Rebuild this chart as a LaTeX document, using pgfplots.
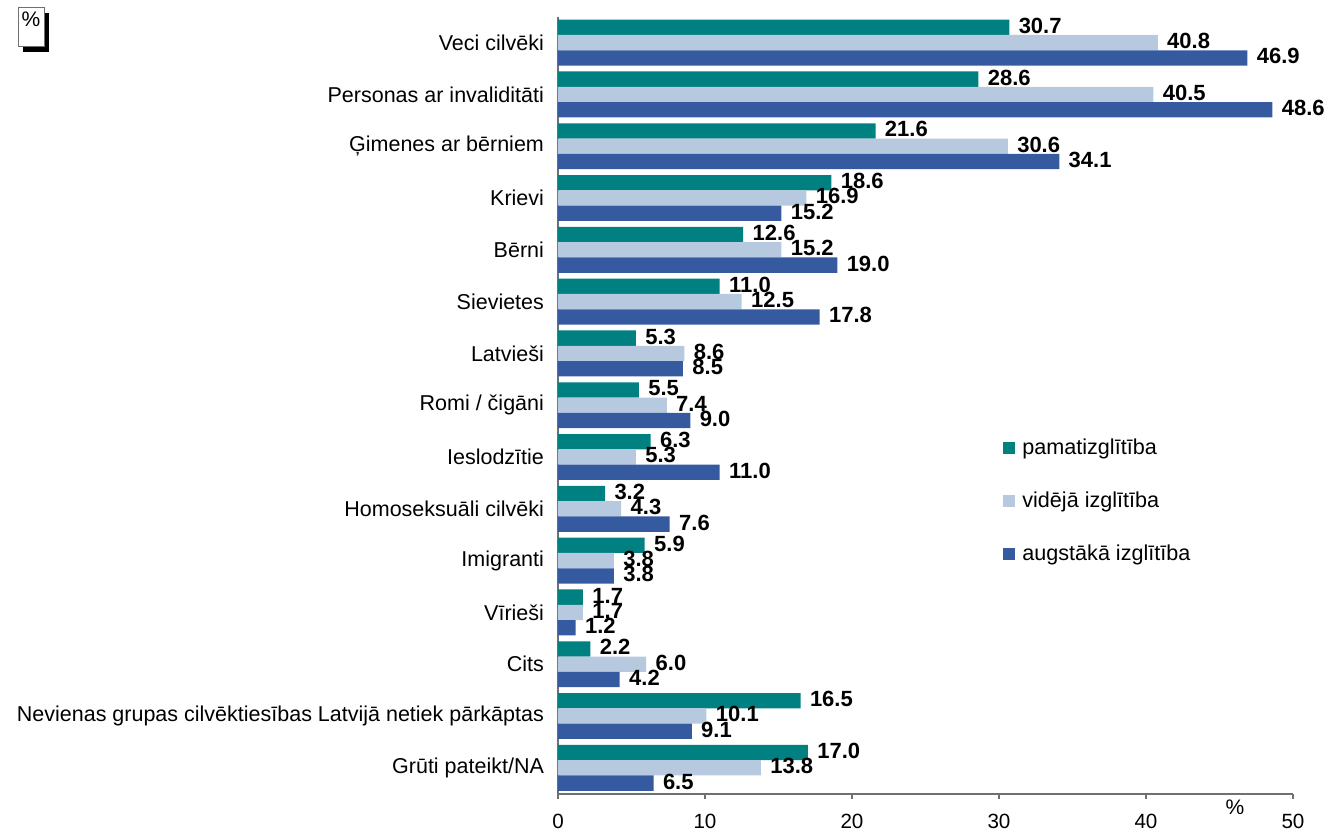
\documentclass[border=0pt]{standalone}
\usepackage{pgfplots}
\pgfplotsset{compat=1.18}
\usepackage{pgfplotstable}
\usepackage{fontspec}
\setmainfont{Liberation Sans}
\definecolor{cA}{HTML}{008080}
\definecolor{cB}{HTML}{B7C9DF}
\definecolor{cC}{HTML}{355A9F}
\definecolor{axc}{HTML}{707070}
\pgfplotstableread{
idx a b c
0 30.7 40.8 46.9
1 28.6 40.5 48.6
2 21.6 30.6 34.1
3 18.6 16.9 15.2
4 12.6 15.2 19.0
5 11.0 12.5 17.8
6 5.3 8.6 8.5
7 5.5 7.4 9.0
8 6.3 5.3 11.0
9 3.2 4.3 7.6
10 5.9 3.8 3.8
11 1.7 1.7 1.2
12 2.2 6.0 4.2
13 16.5 10.1 9.1
14 17.0 13.8 6.5
}\datatable
\begin{document}
\begin{tikzpicture}
\useasboundingbox (0,0) rectangle (663.5pt,415.5pt);
\begin{axis}[
  at={(279pt,18.65pt)}, anchor=south west,
  scale only axis, width=367.5pt, height=388.5pt,
  xbar=0pt, bar width=7.65pt,
  xmin=0, xmax=50, ymin=-0.5, ymax=14.5, y dir=reverse,
  axis x line=bottom, axis y line=left,
  axis line style={-, axc, line width=0.8pt},
  tick style={axc, line width=0.8pt},
  tick align=outside,
  xtick={0,10,20,30,40,50},
  major tick length=2.5pt,
  ytick={0,...,14},
  y tick style={draw=none},
  minor ytick={-0.5,0.5,...,14.5},
  minor y tick style={axc, line width=0.8pt},
  minor tick length=2.5pt,
  yticklabels={Veci cilvēki,Personas ar invaliditāti,Ģimenes ar bērniem,Krievi,Bērni,Sievietes,Latvieši,Romi / čigāni,Ieslodzītie,Homoseksuāli cilvēki,Imigranti,Vīrieši,Cits,Nevienas grupas cilvēktiesības Latvijā netiek pārkāptas,Grūti pateikt/NA},
  yticklabel style={font=\fontsize{10.75}{12.9}\selectfont, xshift=-1pt},
  xticklabel style={font=\fontsize{10.3}{12.4}\selectfont, yshift=-4pt},
  /pgf/number format/assume math mode=true,
  nodes near coords,
  nodes near coords style={font=\fontsize{11}{13}\selectfont\bfseries, anchor=west, xshift=1.2pt, yshift=0.8pt,
    /pgf/number format/fixed, /pgf/number format/fixed zerofill, /pgf/number format/precision=1},
  legend style={at={(rel axis cs:0.6054,0.462)}, anchor=north west, draw=none, fill=none,
    inner sep=0pt, row sep=13.1pt, cells={anchor=west}, font=\fontsize{10.8}{13}\selectfont,
    /tikz/column 1/.style={column sep=1.5pt}},
  legend image code/.code={\fill[#1] (0pt,-3pt) rectangle (6pt,3pt);},
  clip=false,
]
\addplot[fill=cA, draw=none, bar shift=7.65pt] table[x=a, y=idx] {\datatable};
\addplot[fill=cB, draw=none, bar shift=0pt] table[x=b, y=idx] {\datatable};
\addplot[fill=cC, draw=none, bar shift=-7.65pt] table[x=c, y=idx] {\datatable};
\legend{pamatizglītība,vidējā izglītība,augstākā izglītība}
\end{axis}
\fill[black] (11.5pt,389.5pt) rectangle (24.5pt,409pt);
\filldraw[fill=white, draw=axc, line width=0.5pt] (9pt,392pt) rectangle (22pt,411.5pt);
\node[anchor=north, inner sep=0pt, font=\fontsize{10.5}{12.6}\selectfont] at (15.5pt,409.5pt) {\%};
\node[font=\fontsize{10.5}{12.6}\selectfont] at (617.5pt,12pt) {\%};
\end{tikzpicture}
\end{document}
